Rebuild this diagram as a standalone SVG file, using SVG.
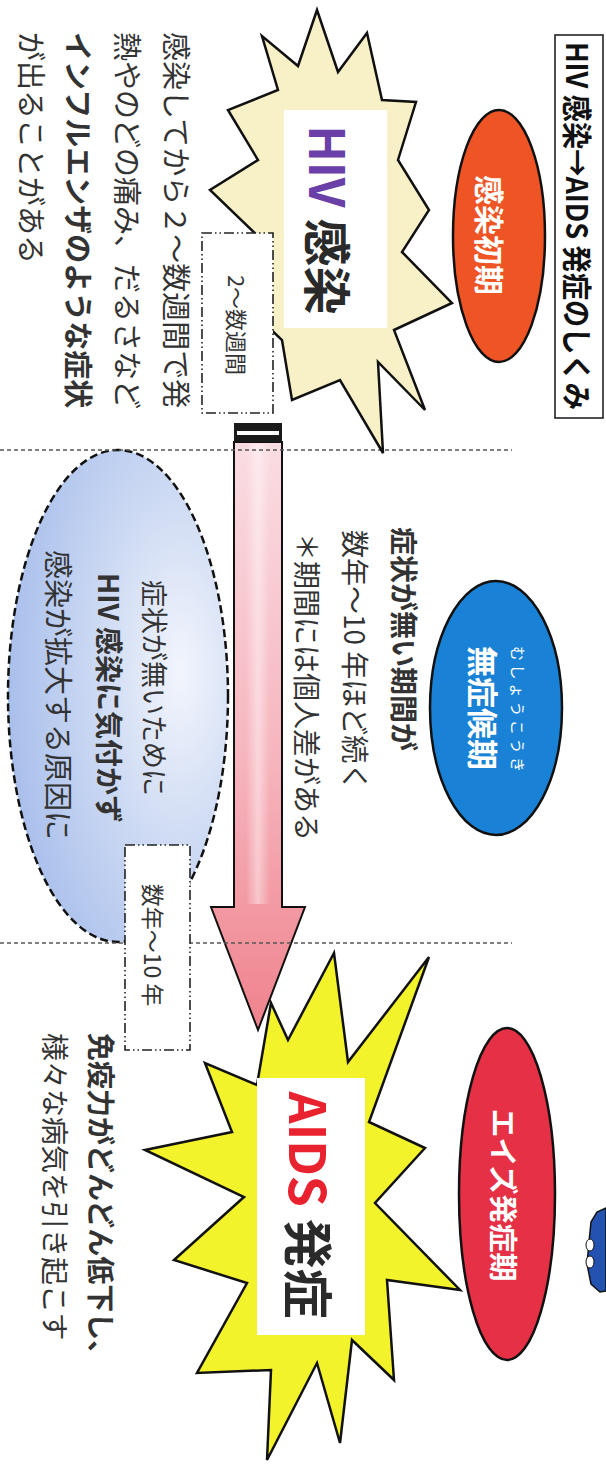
<svg xmlns="http://www.w3.org/2000/svg" width="606" height="1468" viewBox="0 0 606 1468">
<defs>
<linearGradient id="gArrow" x1="0" y1="0" x2="0" y2="1">
<stop offset="0" stop-color="#FADDE3"/>
<stop offset="0.55" stop-color="#F6B4BD"/>
<stop offset="1" stop-color="#EF828C"/>
</linearGradient>
<linearGradient id="gGloss" x1="0" y1="0" x2="1" y2="0">
<stop offset="0" stop-color="#fff" stop-opacity="0"/>
<stop offset="0.5" stop-color="#fff" stop-opacity="0.45"/>
<stop offset="1" stop-color="#fff" stop-opacity="0"/>
</linearGradient>
<radialGradient id="gBlue" cx="0.78" cy="0.45" r="0.85">
<stop offset="0" stop-color="#F2F5FC"/>
<stop offset="0.45" stop-color="#CCD9F3"/>
<stop offset="1" stop-color="#A3BBEA"/>
</radialGradient>
<style>
.t{font-family:"Noto Sans CJK JP","Noto Sans",sans-serif;fill:#333;dominant-baseline:central}
.b{font-weight:bold}
.w{fill:#fff;font-weight:bold}
.ol{stroke:#111;stroke-width:2.5}
.box{fill:#fff;stroke:#222;stroke-width:1.6;stroke-dasharray:10 3 1.5 3 1.5 3}
.div{stroke:#555;stroke-width:1.6;stroke-dasharray:4 3;fill:none}
</style>
</defs>
<rect width="606" height="1468" fill="#fff"/>

<g id="title">
<rect x="555" y="35" width="48" height="383" fill="#fff" stroke="#222" stroke-width="1.6"/>
<text class="t b" font-size="30" transform="translate(579,226) rotate(90)" text-anchor="middle" textLength="368" lengthAdjust="spacingAndGlyphs" style="fill:#111">HIV 感染→AIDS 発症のしくみ</text>
</g>

<g id="info-area">
<ellipse cx="118" cy="696" rx="110" ry="246" fill="url(#gBlue)" stroke="#111" stroke-width="2.5" stroke-dasharray="8 4"/>
<text class="t" font-size="27" transform="translate(155,580) rotate(90)">症状が無いために</text>
<text class="t b" font-size="28" transform="translate(110,573) rotate(90)">HIV 感染に気付かず</text>
<text class="t" font-size="29" transform="translate(60,550) rotate(90)">感染が拡大する原因に</text>
</g>

<g id="connectors">
<path d="M234,442 L282,442 L282,907 L305,907 L258,1030 L211,907 L234,907 Z" fill="url(#gArrow)" stroke="#111" stroke-width="2"/>
<rect x="246" y="444" width="24" height="460" fill="url(#gGloss)"/>
<rect x="234" y="423" width="48" height="19" fill="#1a1a1a"/>
<rect x="237" y="431" width="42" height="4" fill="#fff"/>
</g>

<g id="dividers">
<line class="div" x1="0" y1="450" x2="512" y2="450"/>
<line class="div" x1="0" y1="943" x2="512" y2="943"/>
</g>

<g id="phase-early">
<ellipse cx="499" cy="236" rx="46" ry="126" fill="#EE5424" class="ol"/>
<text class="t w" font-size="30" transform="translate(491,235) rotate(90)" text-anchor="middle">感染初期</text>
</g>

<g id="phase-latent">
<ellipse cx="496" cy="708" rx="66" ry="127" fill="#1A82D6" class="ol"/>
<text class="t w" font-size="31" transform="translate(484,708) rotate(90)" text-anchor="middle">無症候期</text>
<text class="t" font-size="15" style="fill:#fff" transform="translate(518,709) rotate(90)" text-anchor="middle" textLength="126" lengthAdjust="spacing">むしょうこうき</text>
</g>

<g id="phase-aids">
<ellipse cx="507" cy="1194" rx="48" ry="166" fill="#E63046" class="ol"/>
<text class="t w" font-size="29" transform="translate(505,1195) rotate(90)" text-anchor="middle">エイズ発症期</text>
</g>

<g id="hiv-infection">
<polygon points="317,10 338,72 367,33 382,100 416,102 398,160 429,210 402,252 452,303 394,330 425,410 378,362 383,453 340,380 292,400 282,340 240,300 262,240 210,190 258,160 228,110 278,90 262,36 298,66" fill="#F8F1C8" stroke="#111" stroke-width="2.5"/>
<rect x="284" y="110" width="103" height="218" fill="#fff"/>
<text class="t b" font-size="48" transform="translate(330,220) rotate(90)" text-anchor="middle"><tspan style="fill:#6A40A8">HIV</tspan> <tspan style="fill:#2a2a2a">感染</tspan></text>
</g>

<g id="early-symptoms">
<text class="t" font-size="29" transform="translate(178,32) rotate(90)">感染してから２〜数週間で発</text>
<text class="t" font-size="29" transform="translate(129,32) rotate(90)">熱やのどの痛み、だるさなど</text>
<text class="t b" font-size="29" transform="translate(80,32) rotate(90)">インフルエンザのような症状</text>
<text class="t" font-size="29" transform="translate(33,32) rotate(90)">が出ることがある</text>
</g>

<g id="period-weeks">
<rect x="202" y="233" width="71" height="180" class="box"/>
<text class="t" font-size="22" transform="translate(238,325) rotate(90)" text-anchor="middle">2〜数週間</text>
</g>

<g id="latent-text">
<text class="t b" font-size="28" transform="translate(405,527) rotate(90)">症状が無い期間が</text>
<text class="t" font-size="28" transform="translate(356,530) rotate(90)">数年〜10 年ほど続く</text>
<text class="t" font-size="28" transform="translate(308,533) rotate(90)">＊期間には個人差がある</text>
</g>

<g id="period-years">
<rect x="125" y="845" width="65" height="205" class="box"/>
<text class="t" font-size="23" transform="translate(154,945) rotate(90)" text-anchor="middle">数年〜10 年</text>
</g>

<g id="aids-onset">
<polygon points="271,1003 288,1040 334,953 348,1062 429,957 369,1122 425,1148 375,1203 460,1290 387,1280 394,1380 352,1340 340,1443 317,1363 267,1460 271,1370 197,1373 247,1283 174,1260 244,1197 145,1150 232,1132 205,1063 257,1085" fill="#F3F32C" stroke="#111" stroke-width="2.5"/>
<rect x="257" y="1078" width="108" height="257" fill="#fff"/>
<text class="t b" font-size="50" transform="translate(311,1205) rotate(90)" text-anchor="middle"><tspan style="fill:#E8232F">AIDS</tspan> <tspan style="fill:#2a2a2a">発症</tspan></text>
</g>

<g id="aids-text">
<text class="t b" font-size="28" transform="translate(102,1033) rotate(90)">免疫力がどんどん低下し、</text>
<text class="t" font-size="28" transform="translate(56,1033) rotate(90)">様々な病気を引き起こす</text>
</g>

<g id="figure">
<path d="M606,1208 L597,1212 L591,1222 L589,1242 L587,1264 L591,1284 L600,1292 L606,1291 Z" fill="#2452B0" stroke="#111" stroke-width="1.5"/>
<ellipse cx="590" cy="1245" rx="4" ry="6" fill="#fff" stroke="#111" stroke-width="1"/>
<ellipse cx="590" cy="1262" rx="4" ry="6" fill="#fff" stroke="#111" stroke-width="1"/>
</g>
</svg>
